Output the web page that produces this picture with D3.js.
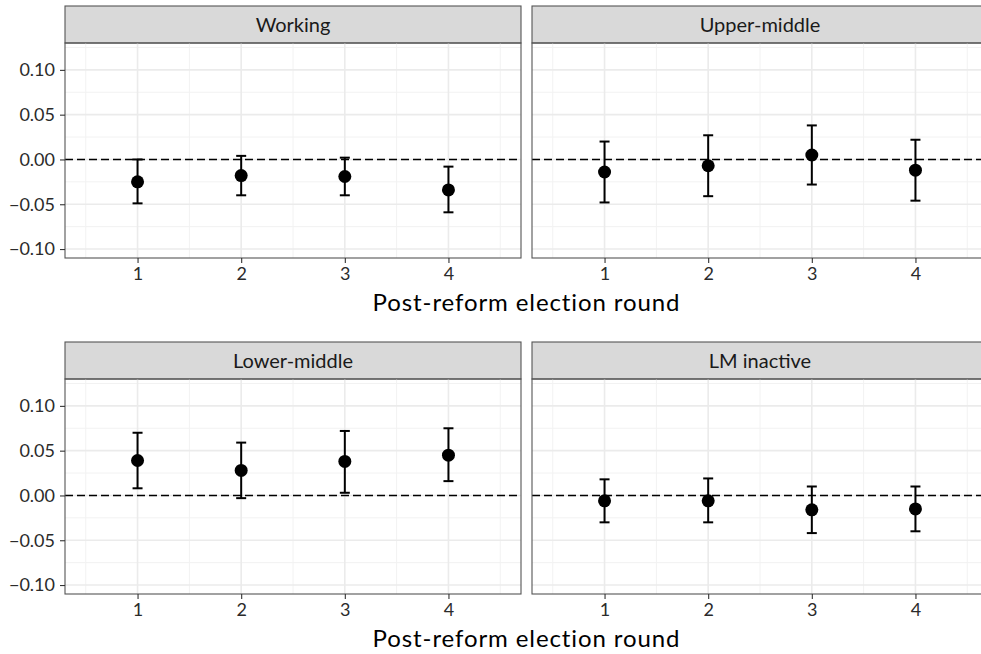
<!DOCTYPE html>
<html>
<head>
<meta charset="utf-8">
<script src="https://cdn.jsdelivr.net/npm/d3@7"></script>
<style>
  body { margin: 0; background: #fff; }
  text { font-family: Lato, "Open Sans", sans-serif; }
</style>
</head>
<body>
<svg id="chart" width="981" height="654"></svg>
<script>
// facet names, in reading order
let facets = ["Working", "Upper-middle", "Lower-middle", "LM inactive"];
let rounds = [1, 2, 3, 4];

// point estimates and 95% interval per facet
let estWorking = [-0.025, -0.018, -0.019, -0.034];
let loWorking  = [-0.049, -0.040, -0.040, -0.059];
let hiWorking  = [ 0.000,  0.004,  0.002, -0.008];

let estUpper = [-0.014, -0.007, 0.005, -0.012];
let loUpper  = [-0.048, -0.041, -0.028, -0.046];
let hiUpper  = [ 0.020,  0.027, 0.038,  0.022];

let estLower = [0.039, 0.028, 0.038, 0.045];
let loLower  = [0.008, -0.003, 0.003, 0.016];
let hiLower  = [0.070, 0.059, 0.072, 0.075];

let estInactive = [-0.006, -0.006, -0.016, -0.015];
let loInactive  = [-0.030, -0.030, -0.042, -0.040];
let hiInactive  = [ 0.018,  0.019,  0.010,  0.010];

let yTicks = [-0.10, -0.05, 0.00, 0.05, 0.10];
let yMinor = [-0.075, -0.025, 0.025, 0.075, 0.125];
let xMinor = [0.5, 1.5, 2.5, 3.5, 4.5];

let seriesByFacet = {
    "Working": [estWorking, loWorking, hiWorking],
    "Upper-middle": [estUpper, loUpper, hiUpper],
    "Lower-middle": [estLower, loLower, hiLower],
    "LM inactive": [estInactive, loInactive, hiInactive]
};

let svg = d3.select("#chart");

let panelW = 456;
let panelH = 215;
let stripH = 37;
let colX = [65, 532];
let rowY = [6, 342];   // top of strip

let x = d3.scaleLinear().domain([0.3, 4.7]).range([0, panelW]);
let y = d3.scaleLinear().domain([-0.11, 0.13]).range([panelH, 0]);

let fmt = d3.format(".2f");

facets.forEach(function(name, i) {
    let col = i % 2;
    let row = Math.floor(i / 2);
    let g = svg.append("g")
        .attr("transform", "translate(" + colX[col] + "," + (rowY[row] + stripH) + ")");

    // strip
    g.append("rect")
        .attr("x", 0).attr("y", -stripH)
        .attr("width", panelW).attr("height", stripH)
        .attr("fill", "#d9d9d9")
        .attr("stroke", "#555").attr("stroke-width", 1.1);
    g.append("text")
        .attr("x", panelW / 2).attr("y", -stripH / 2)
        .attr("dy", "0.36em")
        .attr("text-anchor", "middle")
        .style("font-size", "20px")
        .style("fill", "#1a1a1a")
        .text(name);

    // grid
    g.selectAll(".ymin").data(yMinor.filter(v => v < y.domain()[1])).enter().append("line")
        .attr("x1", 0).attr("x2", panelW)
        .attr("y1", d => y(d)).attr("y2", d => y(d))
        .attr("stroke", "#f2f2f2").attr("stroke-width", 1);
    g.selectAll(".xmin").data(xMinor).enter().append("line")
        .attr("y1", 0).attr("y2", panelH)
        .attr("x1", d => x(d)).attr("x2", d => x(d))
        .attr("stroke", "#f2f2f2").attr("stroke-width", 1);
    g.selectAll(".ymaj").data(yTicks).enter().append("line")
        .attr("x1", 0).attr("x2", panelW)
        .attr("y1", d => y(d)).attr("y2", d => y(d))
        .attr("stroke", "#ebebeb").attr("stroke-width", 1.6);
    g.selectAll(".xmaj").data(rounds).enter().append("line")
        .attr("y1", 0).attr("y2", panelH)
        .attr("x1", d => x(d)).attr("x2", d => x(d))
        .attr("stroke", "#ebebeb").attr("stroke-width", 1.6);

    // zero reference
    g.append("line")
        .attr("x1", 0).attr("x2", panelW)
        .attr("y1", y(0)).attr("y2", y(0))
        .attr("stroke", "#000").attr("stroke-width", 1.6)
        .attr("stroke-dasharray", "8,4");

    let s = seriesByFacet[name];
    let pts = rounds.map((r, k) => ({round: r, est: s[0][k], lo: s[1][k], hi: s[2][k]}));

    // error bars
    let eb = g.selectAll(".eb").data(pts).enter().append("g");
    eb.append("line")
        .attr("x1", d => x(d.round)).attr("x2", d => x(d.round))
        .attr("y1", d => y(d.lo)).attr("y2", d => y(d.hi))
        .attr("stroke", "#000").attr("stroke-width", 2);
    eb.append("line")
        .attr("x1", d => x(d.round) - 5).attr("x2", d => x(d.round) + 5)
        .attr("y1", d => y(d.lo)).attr("y2", d => y(d.lo))
        .attr("stroke", "#000").attr("stroke-width", 2);
    eb.append("line")
        .attr("x1", d => x(d.round) - 5).attr("x2", d => x(d.round) + 5)
        .attr("y1", d => y(d.hi)).attr("y2", d => y(d.hi))
        .attr("stroke", "#000").attr("stroke-width", 2);

    // points
    g.selectAll(".pt").data(pts).enter().append("circle")
        .attr("cx", d => x(d.round)).attr("cy", d => y(d.est))
        .attr("r", 6.5).attr("fill", "#000");

    // panel border
    g.append("rect")
        .attr("width", panelW).attr("height", panelH)
        .attr("fill", "none").attr("stroke", "#555").attr("stroke-width", 1.1);

    // x axis
    let xa = g.append("g").attr("transform", "translate(0," + panelH + ")")
        .call(d3.axisBottom(x).tickValues(rounds).tickSize(5).tickPadding(4).tickFormat(d3.format("d")));
    xa.select(".domain").remove();
    xa.selectAll("line").attr("stroke", "#333").attr("stroke-width", 1.1);
    xa.selectAll("text").style("font-size", "18px").style("fill", "#2b2b2b").attr("font-family", null);

    // y axis only on left column
    if (col === 0) {
        let ya = g.append("g")
            .call(d3.axisLeft(y).tickValues(yTicks).tickSize(5).tickPadding(5).tickFormat(fmt));
        ya.select(".domain").remove();
        ya.selectAll("line").attr("stroke", "#333").attr("stroke-width", 1.1);
        ya.selectAll("text").style("font-size", "18px").style("fill", "#2b2b2b").attr("font-family", null);
    }
});

// x axis titles, one per row, centred under both columns
rowY.forEach(function(top) {
    svg.append("text")
        .attr("x", (colX[0] + colX[1] + panelW) / 2)
        .attr("y", top + stripH + panelH + 53)
        .attr("text-anchor", "middle")
        .style("font-size", "24px")
        .style("letter-spacing", "0.9px")
        .style("fill", "#000")
        .text("Post-reform election round");
});
</script>
</body>
</html>
